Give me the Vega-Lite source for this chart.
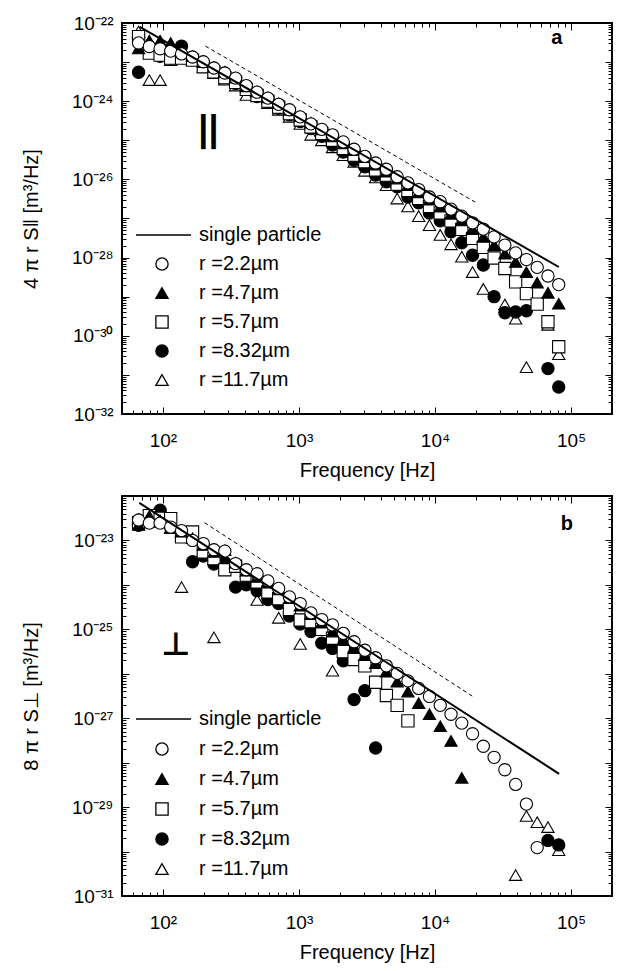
{
  "$schema": "https://vega.github.io/schema/vega-lite/v6.json",
  "background": "white",
  "padding": {"left": 20, "top": 13, "right": 4, "bottom": 0},
  "config": {
    "font": "Liberation Sans",
    "view": {"stroke": "black", "strokeWidth": 2},
    "axis": {
      "grid": false,
      "domain": false,
      "labelFont": "Liberation Sans",
      "labelFontSize": 19,
      "labelColor": "black",
      "labelOverlap": false,
      "tickColor": "black",
      "tickWidth": 1,
      "titleFont": "Liberation Sans",
      "titleFontSize": 20,
      "titleFontWeight": "normal",
      "titleColor": "black"
    },
    "legend": {"labelFont": "Liberation Sans", "labelFontSize": 20, "labelColor": "black"}
  },
  "datasets": {
    "par": [
      {"r": "11.7", "f": 66.2, "S": 6.03e-23}, {"r": "11.7", "f": 79.4, "S": 3.47e-24}, {"r": "11.7", "f": 95.3, "S": 3.47e-24},
      {"r": "11.7", "f": 114, "S": 1.12e-23}, {"r": "11.7", "f": 137, "S": 1.26e-23}, {"r": "11.7", "f": 165, "S": 1.12e-23},
      {"r": "11.7", "f": 198, "S": 7.59e-24}, {"r": "11.7", "f": 237, "S": 5.25e-24}, {"r": "11.7", "f": 285, "S": 3.55e-24},
      {"r": "11.7", "f": 342, "S": 2.51e-24}, {"r": "11.7", "f": 410, "S": 1.45e-24}, {"r": "11.7", "f": 492, "S": 1.32e-24},
      {"r": "11.7", "f": 591, "S": 8.91e-25}, {"r": "11.7", "f": 709, "S": 6.03e-25}, {"r": "11.7", "f": 851, "S": 3.98e-25},
      {"r": "11.7", "f": 1021, "S": 2.63e-25}, {"r": "11.7", "f": 1225, "S": 1.38e-25}, {"r": "11.7", "f": 1470, "S": 1.0e-25},
      {"r": "11.7", "f": 1764, "S": 6.61e-26}, {"r": "11.7", "f": 2117, "S": 4.17e-26}, {"r": "11.7", "f": 2540, "S": 2.82e-26},
      {"r": "11.7", "f": 3048, "S": 1.66e-26}, {"r": "11.7", "f": 3658, "S": 1.12e-26}, {"r": "11.7", "f": 4390, "S": 7.08e-27},
      {"r": "11.7", "f": 5268, "S": 3.24e-27}, {"r": "11.7", "f": 6321, "S": 2.04e-27}, {"r": "11.7", "f": 7586, "S": 1.15e-27},
      {"r": "11.7", "f": 9103, "S": 6.76e-28}, {"r": "11.7", "f": 10924, "S": 3.8e-28}, {"r": "11.7", "f": 13109, "S": 2.19e-28},
      {"r": "11.7", "f": 15730, "S": 1.05e-28}, {"r": "11.7", "f": 18876, "S": 4.27e-29}, {"r": "11.7", "f": 22652, "S": 1.58e-29},
      {"r": "11.7", "f": 32619, "S": 6.31e-30}, {"r": "11.7", "f": 39143, "S": 2.75e-30}, {"r": "11.7", "f": 46971, "S": 1.58e-31},
      {"r": "11.7", "f": 67638, "S": 1.91e-30}, {"r": "11.7", "f": 81166, "S": 3.39e-31},

      {"r": "8.32", "f": 66.2, "S": 5.5e-24}, {"r": "8.32", "f": 79.4, "S": 1.78e-23}, {"r": "8.32", "f": 95.3, "S": 1.41e-23},
      {"r": "8.32", "f": 114, "S": 1.26e-23}, {"r": "8.32", "f": 137, "S": 2.57e-23}, {"r": "8.32", "f": 165, "S": 1.26e-23},
      {"r": "8.32", "f": 198, "S": 8.91e-24}, {"r": "8.32", "f": 237, "S": 6.31e-24}, {"r": "8.32", "f": 285, "S": 4.17e-24},
      {"r": "8.32", "f": 342, "S": 2.82e-24}, {"r": "8.32", "f": 410, "S": 2.0e-24}, {"r": "8.32", "f": 492, "S": 1.32e-24},
      {"r": "8.32", "f": 591, "S": 9.55e-25}, {"r": "8.32", "f": 709, "S": 6.61e-25}, {"r": "8.32", "f": 851, "S": 4.47e-25},
      {"r": "8.32", "f": 1021, "S": 3.02e-25}, {"r": "8.32", "f": 1225, "S": 2.0e-25}, {"r": "8.32", "f": 1470, "S": 1.26e-25},
      {"r": "8.32", "f": 1764, "S": 7.59e-26}, {"r": "8.32", "f": 2117, "S": 5.01e-26}, {"r": "8.32", "f": 2540, "S": 3.09e-26},
      {"r": "8.32", "f": 3048, "S": 2.09e-26}, {"r": "8.32", "f": 3658, "S": 1.29e-26}, {"r": "8.32", "f": 4390, "S": 8.71e-27},
      {"r": "8.32", "f": 5268, "S": 6.46e-27}, {"r": "8.32", "f": 6321, "S": 3.55e-27}, {"r": "8.32", "f": 7586, "S": 2.51e-27},
      {"r": "8.32", "f": 9103, "S": 1.38e-27}, {"r": "8.32", "f": 10924, "S": 8.71e-28}, {"r": "8.32", "f": 13109, "S": 4.57e-28},
      {"r": "8.32", "f": 15730, "S": 2.4e-28}, {"r": "8.32", "f": 18876, "S": 1.15e-28}, {"r": "8.32", "f": 22652, "S": 6.46e-29},
      {"r": "8.32", "f": 27182, "S": 1.0e-29}, {"r": "8.32", "f": 32619, "S": 3.89e-30}, {"r": "8.32", "f": 39143, "S": 4.07e-30},
      {"r": "8.32", "f": 46971, "S": 4.37e-30}, {"r": "8.32", "f": 67638, "S": 1.45e-31}, {"r": "8.32", "f": 81166, "S": 4.9e-32},

      {"r": "5.7", "f": 66.2, "S": 4.47e-23}, {"r": "5.7", "f": 79.4, "S": 1.7e-23}, {"r": "5.7", "f": 95.3, "S": 1.51e-23},
      {"r": "5.7", "f": 114, "S": 1.26e-23}, {"r": "5.7", "f": 137, "S": 1.26e-23}, {"r": "5.7", "f": 165, "S": 1.12e-23},
      {"r": "5.7", "f": 198, "S": 7.59e-24}, {"r": "5.7", "f": 237, "S": 5.62e-24}, {"r": "5.7", "f": 285, "S": 3.98e-24},
      {"r": "5.7", "f": 342, "S": 3.02e-24}, {"r": "5.7", "f": 410, "S": 2.0e-24}, {"r": "5.7", "f": 492, "S": 1.41e-24},
      {"r": "5.7", "f": 591, "S": 1.0e-24}, {"r": "5.7", "f": 709, "S": 7.08e-25}, {"r": "5.7", "f": 851, "S": 4.79e-25},
      {"r": "5.7", "f": 1021, "S": 3.31e-25}, {"r": "5.7", "f": 1225, "S": 2.19e-25}, {"r": "5.7", "f": 1470, "S": 1.51e-25},
      {"r": "5.7", "f": 1764, "S": 1.0e-25}, {"r": "5.7", "f": 2117, "S": 6.17e-26}, {"r": "5.7", "f": 2540, "S": 4.17e-26},
      {"r": "5.7", "f": 3048, "S": 2.82e-26}, {"r": "5.7", "f": 3658, "S": 1.74e-26}, {"r": "5.7", "f": 4390, "S": 1.29e-26},
      {"r": "5.7", "f": 5268, "S": 7.59e-27}, {"r": "5.7", "f": 6321, "S": 5.25e-27}, {"r": "5.7", "f": 7586, "S": 3.24e-27},
      {"r": "5.7", "f": 9103, "S": 2.04e-27}, {"r": "5.7", "f": 10924, "S": 1.38e-27}, {"r": "5.7", "f": 13109, "S": 8.71e-28},
      {"r": "5.7", "f": 15730, "S": 5.25e-28}, {"r": "5.7", "f": 18876, "S": 3.09e-28}, {"r": "5.7", "f": 22652, "S": 1.82e-28},
      {"r": "5.7", "f": 27182, "S": 9.77e-29}, {"r": "5.7", "f": 32619, "S": 5.25e-29}, {"r": "5.7", "f": 39143, "S": 2.4e-29},
      {"r": "5.7", "f": 46971, "S": 1.2e-29}, {"r": "5.7", "f": 56365, "S": 6.46e-30}, {"r": "5.7", "f": 67638, "S": 2.29e-30},
      {"r": "5.7", "f": 81166, "S": 5.25e-31},

      {"r": "4.7", "f": 66.2, "S": 2.24e-23}, {"r": "4.7", "f": 79.4, "S": 3.55e-23}, {"r": "4.7", "f": 95.3, "S": 3.55e-23},
      {"r": "4.7", "f": 114, "S": 3.09e-23}, {"r": "4.7", "f": 137, "S": 2.0e-23}, {"r": "4.7", "f": 165, "S": 1.41e-23},
      {"r": "4.7", "f": 198, "S": 1.0e-23}, {"r": "4.7", "f": 237, "S": 7.59e-24}, {"r": "4.7", "f": 285, "S": 5.62e-24},
      {"r": "4.7", "f": 342, "S": 3.98e-24}, {"r": "4.7", "f": 410, "S": 2.4e-24}, {"r": "4.7", "f": 492, "S": 1.78e-24},
      {"r": "4.7", "f": 591, "S": 1.26e-24}, {"r": "4.7", "f": 709, "S": 8.91e-25}, {"r": "4.7", "f": 851, "S": 6.03e-25},
      {"r": "4.7", "f": 1021, "S": 4.17e-25}, {"r": "4.7", "f": 1225, "S": 2.82e-25}, {"r": "4.7", "f": 1470, "S": 1.91e-25},
      {"r": "4.7", "f": 1764, "S": 1.26e-25}, {"r": "4.7", "f": 2117, "S": 8.32e-26}, {"r": "4.7", "f": 2540, "S": 5.62e-26},
      {"r": "4.7", "f": 3048, "S": 3.72e-26}, {"r": "4.7", "f": 3658, "S": 2.4e-26}, {"r": "4.7", "f": 4390, "S": 1.58e-26},
      {"r": "4.7", "f": 5268, "S": 1.05e-26}, {"r": "4.7", "f": 6321, "S": 7.08e-27}, {"r": "4.7", "f": 7586, "S": 4.68e-27},
      {"r": "4.7", "f": 9103, "S": 3.02e-27}, {"r": "4.7", "f": 10924, "S": 2.0e-27}, {"r": "4.7", "f": 13109, "S": 1.32e-27},
      {"r": "4.7", "f": 15730, "S": 8.91e-28}, {"r": "4.7", "f": 18876, "S": 5.37e-28}, {"r": "4.7", "f": 22652, "S": 3.39e-28},
      {"r": "4.7", "f": 27182, "S": 2.09e-28}, {"r": "4.7", "f": 32619, "S": 1.26e-28}, {"r": "4.7", "f": 39143, "S": 7.76e-29},
      {"r": "4.7", "f": 46971, "S": 4.27e-29}, {"r": "4.7", "f": 56365, "S": 2.29e-29}, {"r": "4.7", "f": 67638, "S": 1.26e-29},
      {"r": "4.7", "f": 81166, "S": 6.61e-30},

      {"r": "2.2", "f": 66.2, "S": 3.09e-23}, {"r": "2.2", "f": 79.4, "S": 2.51e-23}, {"r": "2.2", "f": 95.3, "S": 2.19e-23},
      {"r": "2.2", "f": 114, "S": 1.91e-23}, {"r": "2.2", "f": 137, "S": 1.62e-23}, {"r": "2.2", "f": 165, "S": 1.35e-23},
      {"r": "2.2", "f": 198, "S": 1.02e-23}, {"r": "2.2", "f": 237, "S": 7.08e-24}, {"r": "2.2", "f": 285, "S": 5.25e-24},
      {"r": "2.2", "f": 342, "S": 3.89e-24}, {"r": "2.2", "f": 410, "S": 2.51e-24}, {"r": "2.2", "f": 492, "S": 1.7e-24},
      {"r": "2.2", "f": 591, "S": 1.2e-24}, {"r": "2.2", "f": 709, "S": 8.32e-25}, {"r": "2.2", "f": 851, "S": 6.03e-25},
      {"r": "2.2", "f": 1021, "S": 3.98e-25}, {"r": "2.2", "f": 1225, "S": 2.63e-25}, {"r": "2.2", "f": 1470, "S": 1.91e-25},
      {"r": "2.2", "f": 1764, "S": 1.38e-25}, {"r": "2.2", "f": 2117, "S": 9.12e-26}, {"r": "2.2", "f": 2540, "S": 5.89e-26},
      {"r": "2.2", "f": 3048, "S": 3.89e-26}, {"r": "2.2", "f": 3658, "S": 2.63e-26}, {"r": "2.2", "f": 4390, "S": 1.82e-26},
      {"r": "2.2", "f": 5268, "S": 1.17e-26}, {"r": "2.2", "f": 6321, "S": 8.13e-27}, {"r": "2.2", "f": 7586, "S": 5.5e-27},
      {"r": "2.2", "f": 9103, "S": 3.55e-27}, {"r": "2.2", "f": 10924, "S": 2.69e-27}, {"r": "2.2", "f": 13109, "S": 1.74e-27},
      {"r": "2.2", "f": 15730, "S": 1.15e-27}, {"r": "2.2", "f": 18876, "S": 7.76e-28}, {"r": "2.2", "f": 22652, "S": 5.37e-28},
      {"r": "2.2", "f": 27182, "S": 3.39e-28}, {"r": "2.2", "f": 32619, "S": 2.09e-28}, {"r": "2.2", "f": 39143, "S": 1.32e-28},
      {"r": "2.2", "f": 46971, "S": 8.91e-29}, {"r": "2.2", "f": 56365, "S": 5.62e-29}, {"r": "2.2", "f": 67638, "S": 3.39e-29},
      {"r": "2.2", "f": 81166, "S": 2.04e-29}
    ],
    "perp": [
      {"r": "11.7", "f": 66.2, "S": 3.02e-23}, {"r": "11.7", "f": 79.4, "S": 3.39e-23}, {"r": "11.7", "f": 95.3, "S": 2.63e-23},
      {"r": "11.7", "f": 114, "S": 1.91e-23}, {"r": "11.7", "f": 137, "S": 8.91e-25}, {"r": "11.7", "f": 237, "S": 6.61e-26},
      {"r": "11.7", "f": 410, "S": 1.55e-24}, {"r": "11.7", "f": 492, "S": 4.57e-25}, {"r": "11.7", "f": 709, "S": 1.82e-25},
      {"r": "11.7", "f": 1021, "S": 4.68e-26}, {"r": "11.7", "f": 1764, "S": 1.17e-26}, {"r": "11.7", "f": 39143, "S": 2.95e-31},
      {"r": "11.7", "f": 46971, "S": 6.31e-30}, {"r": "11.7", "f": 56365, "S": 4.57e-30}, {"r": "11.7", "f": 67638, "S": 3.55e-30},
      {"r": "11.7", "f": 81166, "S": 1.07e-30},

      {"r": "8.32", "f": 66.2, "S": 2.19e-23}, {"r": "8.32", "f": 79.4, "S": 3.16e-23}, {"r": "8.32", "f": 95.3, "S": 4.79e-23},
      {"r": "8.32", "f": 114, "S": 2.0e-23}, {"r": "8.32", "f": 137, "S": 1.26e-23}, {"r": "8.32", "f": 165, "S": 3.31e-24},
      {"r": "8.32", "f": 198, "S": 4.47e-24}, {"r": "8.32", "f": 237, "S": 2.95e-24}, {"r": "8.32", "f": 285, "S": 3.16e-24},
      {"r": "8.32", "f": 342, "S": 8.91e-25}, {"r": "8.32", "f": 410, "S": 1.0e-24}, {"r": "8.32", "f": 492, "S": 7.41e-25},
      {"r": "8.32", "f": 591, "S": 4.68e-25}, {"r": "8.32", "f": 709, "S": 3.8e-25}, {"r": "8.32", "f": 851, "S": 2.0e-25},
      {"r": "8.32", "f": 1021, "S": 1.32e-25}, {"r": "8.32", "f": 1225, "S": 8.91e-26}, {"r": "8.32", "f": 1470, "S": 4.9e-26},
      {"r": "8.32", "f": 1764, "S": 3.72e-26}, {"r": "8.32", "f": 2117, "S": 1.95e-26}, {"r": "8.32", "f": 2540, "S": 2.63e-27},
      {"r": "8.32", "f": 3048, "S": 4.17e-27}, {"r": "8.32", "f": 3658, "S": 2.14e-28}, {"r": "8.32", "f": 67638, "S": 1.78e-30},
      {"r": "8.32", "f": 81166, "S": 1.41e-30},

      {"r": "5.7", "f": 66.2, "S": 2.51e-23}, {"r": "5.7", "f": 79.4, "S": 3.63e-23}, {"r": "5.7", "f": 95.3, "S": 3.16e-23},
      {"r": "5.7", "f": 114, "S": 3.09e-23}, {"r": "5.7", "f": 137, "S": 1.2e-23}, {"r": "5.7", "f": 165, "S": 1.55e-23},
      {"r": "5.7", "f": 198, "S": 5.5e-24}, {"r": "5.7", "f": 237, "S": 3.89e-24}, {"r": "5.7", "f": 285, "S": 2.19e-24},
      {"r": "5.7", "f": 342, "S": 2.63e-24}, {"r": "5.7", "f": 410, "S": 1.66e-24}, {"r": "5.7", "f": 492, "S": 1.17e-24},
      {"r": "5.7", "f": 591, "S": 6.92e-25}, {"r": "5.7", "f": 709, "S": 4.9e-25}, {"r": "5.7", "f": 851, "S": 2.82e-25},
      {"r": "5.7", "f": 1021, "S": 1.62e-25}, {"r": "5.7", "f": 1225, "S": 1.48e-25}, {"r": "5.7", "f": 1470, "S": 1.0e-25},
      {"r": "5.7", "f": 1764, "S": 6.31e-26}, {"r": "5.7", "f": 2117, "S": 3.16e-26}, {"r": "5.7", "f": 2540, "S": 2.09e-26},
      {"r": "5.7", "f": 3048, "S": 1.51e-26}, {"r": "5.7", "f": 3658, "S": 6.46e-27}, {"r": "5.7", "f": 4390, "S": 3.24e-27},
      {"r": "5.7", "f": 5268, "S": 1.95e-27}, {"r": "5.7", "f": 6321, "S": 8.71e-28},

      {"r": "4.7", "f": 66.2, "S": 2.24e-23}, {"r": "4.7", "f": 79.4, "S": 3.55e-23}, {"r": "4.7", "f": 95.3, "S": 2.82e-23},
      {"r": "4.7", "f": 114, "S": 1.91e-23}, {"r": "4.7", "f": 137, "S": 1.58e-23}, {"r": "4.7", "f": 165, "S": 1.12e-23},
      {"r": "4.7", "f": 198, "S": 7.94e-24}, {"r": "4.7", "f": 237, "S": 5.5e-24}, {"r": "4.7", "f": 285, "S": 6.03e-24},
      {"r": "4.7", "f": 342, "S": 3.16e-24}, {"r": "4.7", "f": 410, "S": 2.09e-24}, {"r": "4.7", "f": 492, "S": 1.51e-24},
      {"r": "4.7", "f": 591, "S": 1.12e-24}, {"r": "4.7", "f": 709, "S": 7.94e-25}, {"r": "4.7", "f": 851, "S": 5.01e-25},
      {"r": "4.7", "f": 1021, "S": 3.39e-25}, {"r": "4.7", "f": 1225, "S": 2.19e-25}, {"r": "4.7", "f": 1470, "S": 1.41e-25},
      {"r": "4.7", "f": 1764, "S": 8.91e-26}, {"r": "4.7", "f": 2117, "S": 6.03e-26}, {"r": "4.7", "f": 2540, "S": 3.98e-26},
      {"r": "4.7", "f": 3048, "S": 2.63e-26}, {"r": "4.7", "f": 3658, "S": 1.74e-26}, {"r": "4.7", "f": 4390, "S": 1.12e-26},
      {"r": "4.7", "f": 5268, "S": 6.61e-27}, {"r": "4.7", "f": 6321, "S": 3.98e-27}, {"r": "4.7", "f": 7586, "S": 2.19e-27},
      {"r": "4.7", "f": 9103, "S": 1.23e-27}, {"r": "4.7", "f": 10924, "S": 6.61e-28}, {"r": "4.7", "f": 13109, "S": 3.09e-28},
      {"r": "4.7", "f": 15730, "S": 4.57e-29},

      {"r": "2.2", "f": 66.2, "S": 2.88e-23}, {"r": "2.2", "f": 79.4, "S": 2.45e-23}, {"r": "2.2", "f": 95.3, "S": 2.45e-23},
      {"r": "2.2", "f": 114, "S": 2.0e-23}, {"r": "2.2", "f": 137, "S": 1.66e-23}, {"r": "2.2", "f": 165, "S": 1.0e-23},
      {"r": "2.2", "f": 198, "S": 8.51e-24}, {"r": "2.2", "f": 237, "S": 6.17e-24}, {"r": "2.2", "f": 285, "S": 5.75e-24},
      {"r": "2.2", "f": 342, "S": 3.02e-24}, {"r": "2.2", "f": 410, "S": 2.19e-24}, {"r": "2.2", "f": 492, "S": 1.78e-24},
      {"r": "2.2", "f": 591, "S": 1.23e-24}, {"r": "2.2", "f": 709, "S": 8.32e-25}, {"r": "2.2", "f": 851, "S": 5.37e-25},
      {"r": "2.2", "f": 1021, "S": 3.8e-25}, {"r": "2.2", "f": 1225, "S": 2.34e-25}, {"r": "2.2", "f": 1470, "S": 1.66e-25},
      {"r": "2.2", "f": 1764, "S": 1.26e-25}, {"r": "2.2", "f": 2117, "S": 8.13e-26}, {"r": "2.2", "f": 2540, "S": 5.25e-26},
      {"r": "2.2", "f": 3048, "S": 3.39e-26}, {"r": "2.2", "f": 3658, "S": 2.29e-26}, {"r": "2.2", "f": 4390, "S": 1.51e-26},
      {"r": "2.2", "f": 5268, "S": 1.02e-26}, {"r": "2.2", "f": 6321, "S": 6.92e-27}, {"r": "2.2", "f": 7586, "S": 4.68e-27},
      {"r": "2.2", "f": 9103, "S": 3.09e-27}, {"r": "2.2", "f": 10924, "S": 1.95e-27}, {"r": "2.2", "f": 13109, "S": 1.23e-27},
      {"r": "2.2", "f": 15730, "S": 7.76e-28}, {"r": "2.2", "f": 18876, "S": 4.47e-28}, {"r": "2.2", "f": 22652, "S": 2.34e-28},
      {"r": "2.2", "f": 27182, "S": 1.32e-28}, {"r": "2.2", "f": 32619, "S": 6.92e-29}, {"r": "2.2", "f": 39143, "S": 3.24e-29},
      {"r": "2.2", "f": 46971, "S": 1.17e-29}, {"r": "2.2", "f": 56365, "S": 1.23e-30}
    ],
    "lines": [
      {"panel": "a", "kind": "single", "f": 67.5, "S": 7.94e-23},
      {"panel": "a", "kind": "single", "f": 81300, "S": 5.75e-29},
      {"panel": "a", "kind": "dashed", "f": 205, "S": 2.57e-23},
      {"panel": "a", "kind": "dashed", "f": 19700, "S": 2.63e-27},
      {"panel": "b", "kind": "single", "f": 67, "S": 7.0e-23},
      {"panel": "b", "kind": "single", "f": 81700, "S": 5.62e-29},
      {"panel": "b", "kind": "dashed", "f": 202, "S": 2.51e-23},
      {"panel": "b", "kind": "dashed", "f": 19400, "S": 2.95e-27}
    ]
  },
  "spacing": 5,
  "resolve": {
    "scale": {"x": "independent", "y": "independent", "shape": "independent", "fill": "independent", "stroke": "independent"},
    "legend": {"shape": "independent", "fill": "independent", "stroke": "independent"}
  },
  "vconcat": [
    {
      "width": 490,
      "height": 391,
      "layer": [
        {
          "data": {"name": "par"},
          "mark": {"type": "point", "opacity": 1, "strokeWidth": 1.1, "size": 150},
          "encoding": {
            "x": {
              "field": "f", "type": "quantitative",
              "scale": {"type": "log", "domain": [50, 200000]},
              "axis": {
                "orient": "bottom", "values": [100, 1000, 10000, 100000], "offset": -7, "tickSize": 7, "labelPadding": 17,
                "labelExpr": "datum.value == 100 ? '10²' : datum.value == 1000 ? '10³' : datum.value == 10000 ? '10⁴' : '10⁵'",
                "title": "Frequency [Hz]", "titlePadding": 10
              }
            },
            "y": {
              "field": "S", "type": "quantitative",
              "scale": {"type": "log", "domain": [1e-32, 1e-22]},
              "axis": {
                "orient": "left",
                "values": [1e-32, 1e-31, 1e-30, 1e-29, 1e-28, 1e-27, 1e-26, 1e-25, 1e-24, 1e-23, 1e-22],
                "offset": -7, "tickSize": 7, "labelPadding": 9,
                "labelExpr": "datum.value == 1e-22 ? '10⁻²²' : datum.value == 1e-24 ? '10⁻²⁴' : datum.value == 1e-26 ? '10⁻²⁶' : datum.value == 1e-28 ? '10⁻²⁸' : datum.value == 1e-30 ? '10⁻³⁰' : datum.value == 1e-32 ? '10⁻³²' : ''",
                "title": "4 π r S‖  [m³/Hz]", "titlePadding": 30
              }
            },
            "shape": {
              "field": "r", "type": "nominal",
              "scale": {
                "domain": ["single particle", "2.2", "4.7", "5.7", "8.32", "11.7"],
                "range": ["M-4.25,0H4.75", "circle", "triangle-up", "square", "circle", "triangle-up"]
              },
              "legend": {
                "orient": "none", "legendX": 30, "legendY": 202, "title": null, "padding": 0,
                "symbolSize": 150, "symbolStrokeWidth": 1.3,
                "labelOffset": 27, "rowPadding": 9, "labelLimit": 300,
                "labelExpr": "datum.label == 'single particle' ? datum.label : 'r =' + datum.label + 'µm'"
              }
            },
            "fill": {
              "field": "r", "type": "nominal",
              "scale": {
                "domain": ["single particle", "2.2", "4.7", "5.7", "8.32", "11.7"],
                "range": ["white", "white", "black", "white", "black", "white"]
              },
              "legend": {
                "orient": "none", "legendX": 30, "legendY": 202, "title": null, "padding": 0,
                "symbolSize": 150, "symbolStrokeWidth": 1.3,
                "labelOffset": 27, "rowPadding": 9, "labelLimit": 300,
                "labelExpr": "datum.label == 'single particle' ? datum.label : 'r =' + datum.label + 'µm'"
              }
            },
            "stroke": {
              "field": "r", "type": "nominal",
              "scale": {
                "domain": ["single particle", "2.2", "4.7", "5.7", "8.32", "11.7"],
                "range": ["black", "black", "black", "black", "black", "black"]
              },
              "legend": {
                "orient": "none", "legendX": 30, "legendY": 202, "title": null, "padding": 0,
                "symbolSize": 150, "symbolStrokeWidth": 1.3,
                "labelOffset": 27, "rowPadding": 9, "labelLimit": 300,
                "labelExpr": "datum.label == 'single particle' ? datum.label : 'r =' + datum.label + 'µm'"
              }
            }
          }
        },
        {
          "data": {"name": "lines"},
          "transform": [{"filter": "datum.panel == 'a' && datum.kind == 'single'"}],
          "mark": {"type": "line", "color": "black", "strokeWidth": 2},
          "encoding": {
            "x": {
              "field": "f", "type": "quantitative",
              "scale": {"type": "log", "domain": [50, 200000]},
              "axis": {"orient": "top", "values": [100, 1000, 10000, 100000], "offset": -7, "tickSize": 7, "labels": false, "title": null}
            },
            "y": {
              "field": "S", "type": "quantitative",
              "scale": {"type": "log", "domain": [1e-32, 1e-22]},
              "axis": {"orient": "right", "values": [1e-32, 1e-31, 1e-30, 1e-29, 1e-28, 1e-27, 1e-26, 1e-25, 1e-24, 1e-23, 1e-22], "offset": -7, "tickSize": 7, "labels": false, "title": null}
            }
          }
        },
        {
          "data": {"name": "lines"},
          "transform": [{"filter": "datum.panel == 'a' && datum.kind == 'dashed'"}],
          "mark": {"type": "line", "color": "black", "strokeWidth": 1, "strokeDash": [4, 3]},
          "encoding": {
            "x": {
              "field": "f", "type": "quantitative",
              "scale": {"type": "log", "domain": [50, 200000]},
              "axis": {"orient": "bottom", "values": [60, 70, 80, 90, 200, 300, 400, 500, 600, 700, 800, 900, 2000, 3000, 4000, 5000, 6000, 7000, 8000, 9000, 20000, 30000, 40000, 50000, 60000, 70000, 80000, 90000], "offset": -4, "tickSize": 4, "labels": false, "title": null}
            },
            "y": {
              "field": "S", "type": "quantitative",
              "scale": {"type": "log", "domain": [1e-32, 1e-22]},
              "axis": {"orient": "left", "values": [2e-32, 3e-32, 4e-32, 5e-32, 6e-32, 7e-32, 8e-32, 9e-32, 2e-31, 3e-31, 4e-31, 5e-31, 6e-31, 7e-31, 8e-31, 9e-31, 2e-30, 3e-30, 4e-30, 5e-30, 6e-30, 7e-30, 8e-30, 9e-30, 2e-29, 3e-29, 4e-29, 5e-29, 6e-29, 7e-29, 8e-29, 9e-29, 2e-28, 3e-28, 4e-28, 5e-28, 6e-28, 7e-28, 8e-28, 9e-28, 2e-27, 3e-27, 4e-27, 5e-27, 6e-27, 7e-27, 8e-27, 9e-27, 2e-26, 3e-26, 4e-26, 5e-26, 6e-26, 7e-26, 8e-26, 9e-26, 2e-25, 3e-25, 4e-25, 5e-25, 6e-25, 7e-25, 8e-25, 9e-25, 2e-24, 3e-24, 4e-24, 5e-24, 6e-24, 7e-24, 8e-24, 9e-24, 2e-23, 3e-23, 4e-23, 5e-23, 6e-23, 7e-23, 8e-23, 9e-23], "offset": -4, "tickSize": 4, "labels": false, "title": null}
            }
          }
        },
        {
          "data": {"values": [{}]},
          "mark": {"type": "text", "fontSize": 20, "fontWeight": "bold", "align": "center", "baseline": "middle"},
          "encoding": {
            "x": {
              "datum": 78500, "type": "quantitative",
              "scale": {"type": "log", "domain": [50, 200000]},
              "axis": {"orient": "top", "values": [60, 70, 80, 90, 200, 300, 400, 500, 600, 700, 800, 900, 2000, 3000, 4000, 5000, 6000, 7000, 8000, 9000, 20000, 30000, 40000, 50000, 60000, 70000, 80000, 90000], "offset": -4, "tickSize": 4, "labels": false, "title": null}
            },
            "y": {
              "datum": 4.2e-23, "type": "quantitative",
              "scale": {"type": "log", "domain": [1e-32, 1e-22]},
              "axis": {"orient": "right", "values": [2e-32, 3e-32, 4e-32, 5e-32, 6e-32, 7e-32, 8e-32, 9e-32, 2e-31, 3e-31, 4e-31, 5e-31, 6e-31, 7e-31, 8e-31, 9e-31, 2e-30, 3e-30, 4e-30, 5e-30, 6e-30, 7e-30, 8e-30, 9e-30, 2e-29, 3e-29, 4e-29, 5e-29, 6e-29, 7e-29, 8e-29, 9e-29, 2e-28, 3e-28, 4e-28, 5e-28, 6e-28, 7e-28, 8e-28, 9e-28, 2e-27, 3e-27, 4e-27, 5e-27, 6e-27, 7e-27, 8e-27, 9e-27, 2e-26, 3e-26, 4e-26, 5e-26, 6e-26, 7e-26, 8e-26, 9e-26, 2e-25, 3e-25, 4e-25, 5e-25, 6e-25, 7e-25, 8e-25, 9e-25, 2e-24, 3e-24, 4e-24, 5e-24, 6e-24, 7e-24, 8e-24, 9e-24, 2e-23, 3e-23, 4e-23, 5e-23, 6e-23, 7e-23, 8e-23, 9e-23], "offset": -4, "tickSize": 4, "labels": false, "title": null}
            },
            "text": {"value": "a"}
          }
        },
        {
          "data": {"values": [{}]},
          "mark": {"type": "text", "fontSize": 36, "fontWeight": "bold", "align": "center", "baseline": "middle"},
          "encoding": {
            "x": {"datum": 216, "type": "quantitative", "scale": {"type": "log", "domain": [50, 200000]}, "axis": null},
            "y": {"datum": 1.8e-25, "type": "quantitative", "scale": {"type": "log", "domain": [1e-32, 1e-22]}, "axis": null},
            "text": {"value": "||"}
          }
        }
      ],
      "resolve": {"axis": {"x": "independent", "y": "independent"}}
    },
    {
      "width": 490,
      "height": 400,
      "layer": [
        {
          "data": {"name": "perp"},
          "mark": {"type": "point", "opacity": 1, "strokeWidth": 1.1, "size": 150},
          "encoding": {
            "x": {
              "field": "f", "type": "quantitative",
              "scale": {"type": "log", "domain": [50, 200000]},
              "axis": {
                "orient": "bottom", "values": [100, 1000, 10000, 100000], "offset": -7, "tickSize": 7, "labelPadding": 17,
                "labelExpr": "datum.value == 100 ? '10²' : datum.value == 1000 ? '10³' : datum.value == 10000 ? '10⁴' : '10⁵'",
                "title": "Frequency [Hz]", "titlePadding": 10
              }
            },
            "y": {
              "field": "S", "type": "quantitative",
              "scale": {"type": "log", "domain": [1e-31, 1e-22]},
              "axis": {
                "orient": "left",
                "values": [1e-31, 1e-30, 1e-29, 1e-28, 1e-27, 1e-26, 1e-25, 1e-24, 1e-23, 1e-22],
                "offset": -7, "tickSize": 7, "labelPadding": 9,
                "labelExpr": "datum.value == 1e-23 ? '10⁻²³' : datum.value == 1e-25 ? '10⁻²⁵' : datum.value == 1e-27 ? '10⁻²⁷' : datum.value == 1e-29 ? '10⁻²⁹' : datum.value == 1e-31 ? '10⁻³¹' : ''",
                "title": "8 π r S⊥  [m³/Hz]", "titlePadding": 30
              }
            },
            "shape": {
              "field": "r", "type": "nominal",
              "scale": {
                "domain": ["single particle", "2.2", "4.7", "5.7", "8.32", "11.7"],
                "range": ["M-4.25,0H4.75", "circle", "triangle-up", "square", "circle", "triangle-up"]
              },
              "legend": {
                "orient": "none", "legendX": 30, "legendY": 213, "title": null, "padding": 0,
                "symbolSize": 150, "symbolStrokeWidth": 1.3,
                "labelOffset": 27, "rowPadding": 10, "labelLimit": 300,
                "labelExpr": "datum.label == 'single particle' ? datum.label : 'r =' + datum.label + 'µm'"
              }
            },
            "fill": {
              "field": "r", "type": "nominal",
              "scale": {
                "domain": ["single particle", "2.2", "4.7", "5.7", "8.32", "11.7"],
                "range": ["white", "white", "black", "white", "black", "white"]
              },
              "legend": {
                "orient": "none", "legendX": 30, "legendY": 213, "title": null, "padding": 0,
                "symbolSize": 150, "symbolStrokeWidth": 1.3,
                "labelOffset": 27, "rowPadding": 10, "labelLimit": 300,
                "labelExpr": "datum.label == 'single particle' ? datum.label : 'r =' + datum.label + 'µm'"
              }
            },
            "stroke": {
              "field": "r", "type": "nominal",
              "scale": {
                "domain": ["single particle", "2.2", "4.7", "5.7", "8.32", "11.7"],
                "range": ["black", "black", "black", "black", "black", "black"]
              },
              "legend": {
                "orient": "none", "legendX": 30, "legendY": 213, "title": null, "padding": 0,
                "symbolSize": 150, "symbolStrokeWidth": 1.3,
                "labelOffset": 27, "rowPadding": 10, "labelLimit": 300,
                "labelExpr": "datum.label == 'single particle' ? datum.label : 'r =' + datum.label + 'µm'"
              }
            }
          }
        },
        {
          "data": {"name": "lines"},
          "transform": [{"filter": "datum.panel == 'b' && datum.kind == 'single'"}],
          "mark": {"type": "line", "color": "black", "strokeWidth": 2},
          "encoding": {
            "x": {
              "field": "f", "type": "quantitative",
              "scale": {"type": "log", "domain": [50, 200000]},
              "axis": {"orient": "top", "values": [100, 1000, 10000, 100000], "offset": -7, "tickSize": 7, "labels": false, "title": null}
            },
            "y": {
              "field": "S", "type": "quantitative",
              "scale": {"type": "log", "domain": [1e-31, 1e-22]},
              "axis": {"orient": "right", "values": [1e-31, 1e-30, 1e-29, 1e-28, 1e-27, 1e-26, 1e-25, 1e-24, 1e-23, 1e-22], "offset": -7, "tickSize": 7, "labels": false, "title": null}
            }
          }
        },
        {
          "data": {"name": "lines"},
          "transform": [{"filter": "datum.panel == 'b' && datum.kind == 'dashed'"}],
          "mark": {"type": "line", "color": "black", "strokeWidth": 1, "strokeDash": [4, 3]},
          "encoding": {
            "x": {
              "field": "f", "type": "quantitative",
              "scale": {"type": "log", "domain": [50, 200000]},
              "axis": {"orient": "bottom", "values": [60, 70, 80, 90, 200, 300, 400, 500, 600, 700, 800, 900, 2000, 3000, 4000, 5000, 6000, 7000, 8000, 9000, 20000, 30000, 40000, 50000, 60000, 70000, 80000, 90000], "offset": -4, "tickSize": 4, "labels": false, "title": null}
            },
            "y": {
              "field": "S", "type": "quantitative",
              "scale": {"type": "log", "domain": [1e-31, 1e-22]},
              "axis": {"orient": "left", "values": [2e-31, 3e-31, 4e-31, 5e-31, 6e-31, 7e-31, 8e-31, 9e-31, 2e-30, 3e-30, 4e-30, 5e-30, 6e-30, 7e-30, 8e-30, 9e-30, 2e-29, 3e-29, 4e-29, 5e-29, 6e-29, 7e-29, 8e-29, 9e-29, 2e-28, 3e-28, 4e-28, 5e-28, 6e-28, 7e-28, 8e-28, 9e-28, 2e-27, 3e-27, 4e-27, 5e-27, 6e-27, 7e-27, 8e-27, 9e-27, 2e-26, 3e-26, 4e-26, 5e-26, 6e-26, 7e-26, 8e-26, 9e-26, 2e-25, 3e-25, 4e-25, 5e-25, 6e-25, 7e-25, 8e-25, 9e-25, 2e-24, 3e-24, 4e-24, 5e-24, 6e-24, 7e-24, 8e-24, 9e-24, 2e-23, 3e-23, 4e-23, 5e-23, 6e-23, 7e-23, 8e-23, 9e-23], "offset": -4, "tickSize": 4, "labels": false, "title": null}
            }
          }
        },
        {
          "data": {"values": [{}]},
          "mark": {"type": "text", "fontSize": 20, "fontWeight": "bold", "align": "center", "baseline": "middle"},
          "encoding": {
            "x": {
              "datum": 93300, "type": "quantitative",
              "scale": {"type": "log", "domain": [50, 200000]},
              "axis": {"orient": "top", "values": [60, 70, 80, 90, 200, 300, 400, 500, 600, 700, 800, 900, 2000, 3000, 4000, 5000, 6000, 7000, 8000, 9000, 20000, 30000, 40000, 50000, 60000, 70000, 80000, 90000], "offset": -4, "tickSize": 4, "labels": false, "title": null}
            },
            "y": {
              "datum": 2.36e-23, "type": "quantitative",
              "scale": {"type": "log", "domain": [1e-31, 1e-22]},
              "axis": {"orient": "right", "values": [2e-31, 3e-31, 4e-31, 5e-31, 6e-31, 7e-31, 8e-31, 9e-31, 2e-30, 3e-30, 4e-30, 5e-30, 6e-30, 7e-30, 8e-30, 9e-30, 2e-29, 3e-29, 4e-29, 5e-29, 6e-29, 7e-29, 8e-29, 9e-29, 2e-28, 3e-28, 4e-28, 5e-28, 6e-28, 7e-28, 8e-28, 9e-28, 2e-27, 3e-27, 4e-27, 5e-27, 6e-27, 7e-27, 8e-27, 9e-27, 2e-26, 3e-26, 4e-26, 5e-26, 6e-26, 7e-26, 8e-26, 9e-26, 2e-25, 3e-25, 4e-25, 5e-25, 6e-25, 7e-25, 8e-25, 9e-25, 2e-24, 3e-24, 4e-24, 5e-24, 6e-24, 7e-24, 8e-24, 9e-24, 2e-23, 3e-23, 4e-23, 5e-23, 6e-23, 7e-23, 8e-23, 9e-23], "offset": -4, "tickSize": 4, "labels": false, "title": null}
            },
            "text": {"value": "b"}
          }
        },
        {
          "data": {"values": [{}]},
          "mark": {"type": "text", "font": "DejaVu Sans", "fontSize": 32, "fontWeight": "bold", "align": "center", "baseline": "middle"},
          "encoding": {
            "x": {"datum": 124, "type": "quantitative", "scale": {"type": "log", "domain": [50, 200000]}, "axis": null},
            "y": {"datum": 4.4e-26, "type": "quantitative", "scale": {"type": "log", "domain": [1e-31, 1e-22]}, "axis": null},
            "text": {"value": "⊥"}
          }
        }
      ],
      "resolve": {"axis": {"x": "independent", "y": "independent"}}
    }
  ]
}
